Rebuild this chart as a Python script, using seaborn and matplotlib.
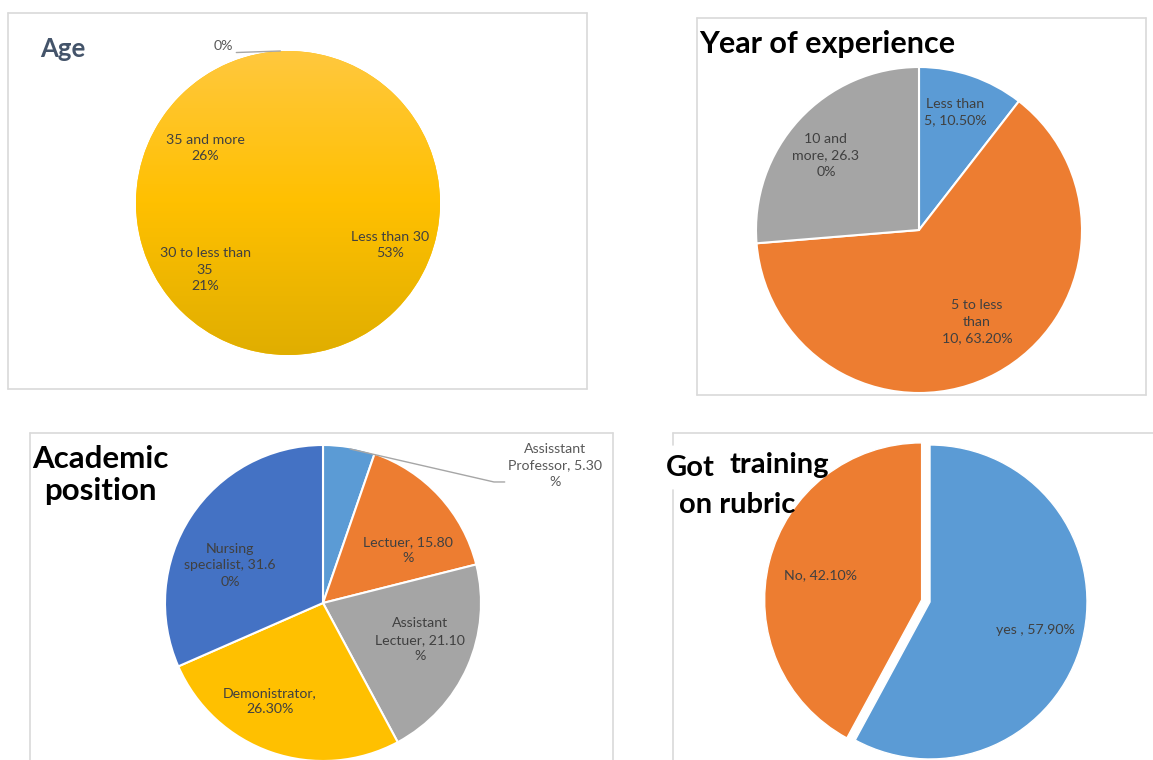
import numpy as np
import matplotlib
matplotlib.use("Agg")
import matplotlib.pyplot as plt
from matplotlib.colors import LinearSegmentedColormap
import seaborn as sns

# ---------------- data ----------------
age_labels = ["Less than 30\n53%", "30 to less than\n35\n21%", "35 and more\n26%", "0%"]
age_values = [53, 21, 26, 0.3]

exp_labels = ["Less than\n5, 10.50%", "5 to less\nthan\n10, 63.20%", "10 and\nmore, 26.3\n0%"]
exp_values = [10.5, 63.2, 26.3]

pos_labels = ["Assisstant\nProfessor, 5.30\n%", "Lectuer, 15.80\n%", "Assistant\nLectuer, 21.10\n%",
              "Demonistrator,\n26.30%", "Nursing\nspecialist, 31.6\n0%"]
pos_values = [5.3, 15.8, 21.1, 26.3, 31.6]

train_labels = ["yes , 57.90%", "No, 42.10%"]
train_values = [57.9, 42.1]

# ---------------- style ----------------
sns.set_theme(style="white")
plt.rcParams["font.family"] = ["Lato", "DejaVu Sans"]

BLUE = "#5B9BD5"
ORANGE = "#ED7D31"
GRAY = "#A5A5A5"
YELLOW = "#FFC000"
DBLUE = "#4472C4"
LBL = "#404040"
BORDER = "#D9D9D9"
FS = 10.2

W, H = 1153, 760
fig = plt.figure(figsize=(W / 100, H / 100), dpi=100)
fig.patch.set_facecolor("white")

# overlay axes in pixel coordinates for frames
ov = fig.add_axes([0, 0, 1, 1])
ov.set_xlim(0, W)
ov.set_ylim(H, 0)
ov.axis("off")


def frame(x0, y0, x1, y1, sides="tblr"):
    kw = dict(color=BORDER, lw=1.2, zorder=0)
    if "t" in sides:
        ov.plot([x0, x1], [y0, y0], **kw)
    if "b" in sides:
        ov.plot([x0, x1], [y1, y1], **kw)
    if "l" in sides:
        ov.plot([x0, x0], [y0, y1], **kw)
    if "r" in sides:
        ov.plot([x1, x1], [y0, y1], **kw)


frame(8, 13, 587, 389)
frame(697, 18, 1146, 395)
frame(30, 433, 613, 760, sides="tlr")
ov.plot([673, 1153], [433, 433], color=BORDER, lw=1.2, zorder=0)
ov.plot([673, 673], [433, 445], color=BORDER, lw=1.2, zorder=0)
ov.plot([673, 673], [490, 760], color=BORDER, lw=1.2, zorder=0)


def title(x, y, txt, **kw):
    fig.text(x / W, 1 - y / H, txt, zorder=10, fontweight="bold", **kw)


def pie_axes(cx, cy, r, s=1.2):
    ax = fig.add_axes([(cx - r * s) / W, 1 - (cy + r * s) / H, 2 * r * s / W, 2 * r * s / H])
    ax.axis("off")
    return ax, s


def fix_limits(ax, s):
    ax.set_xlim(-s, s)
    ax.set_ylim(-s, s)


# ---------------- Age ----------------
ax1, s1 = pie_axes(288, 203, 152)
wedges, _ = ax1.pie(age_values, colors=[YELLOW] * 4, startangle=90, counterclock=False,
                    wedgeprops=dict(linewidth=0))
cmap = LinearSegmentedColormap.from_list("yg", ["#E0AE00", "#FFC000", "#FFC83E"])
grad = np.linspace(0, 1, 256).reshape(-1, 1)
im = ax1.imshow(grad, cmap=cmap, extent=(-1, 1, -1, 1), origin="lower", aspect="auto", zorder=3)
circ = plt.Circle((0, 0), 1, transform=ax1.transData, fc="none", ec="none")
ax1.add_patch(circ)
im.set_clip_path(circ)
fix_limits(ax1, s1)
age_pos = [(0.671, -0.276), (-0.546, -0.44), (-0.546, 0.362)]
for (x, y), t in zip(age_pos, age_labels[:3]):
    ax1.text(x, y, t, ha="center", va="center", fontsize=FS, color=LBL, zorder=5, linespacing=1.45)
ax1.text(-0.36, 1.03, age_labels[3], ha="right", va="center", fontsize=FS, color="#595959", zorder=5)
ax1.plot([-0.34, -0.05], [0.99, 1.0], color="#A6A6A6", lw=1, zorder=5)
title(40, 49, "Age", fontsize=18.5, color="#44546A", ha="left", va="center")

# ---------------- Year of experience ----------------
ax2, s2 = pie_axes(919, 230, 163)
ax2.pie(exp_values, colors=[BLUE, ORANGE, GRAY], startangle=90, counterclock=False,
        wedgeprops=dict(edgecolor="white", linewidth=1.5))
fix_limits(ax2, s2)
exp_pos = [(0.221, 0.724), (0.356, -0.564), (-0.571, 0.46)]
for (x, y), t in zip(exp_pos, exp_labels):
    ax2.text(x, y, t, ha="center", va="center", fontsize=FS, color=LBL, linespacing=1.45)
title(699, 44, "Year of experience", fontsize=22, color="black", ha="left", va="center")

# ---------------- Academic position ----------------
ax3, s3 = pie_axes(323, 603, 158, s=1.6)
ax3.pie(pos_values, colors=[BLUE, ORANGE, GRAY, YELLOW, DBLUE], startangle=90, counterclock=False,
        wedgeprops=dict(edgecolor="white", linewidth=1.5))
fix_limits(ax3, s3)
pos_pos = [(1.468, 0.873), (0.538, 0.335), (0.614, -0.234), (-0.335, -0.62), (-0.589, 0.24)]
for i, ((x, y), t) in enumerate(zip(pos_pos, pos_labels)):
    ax3.text(x, y, t, ha="center", va="center", fontsize=FS,
             color="#595959" if i == 0 else LBL, linespacing=1.45)
ax3.plot([0.171, 1.082, 1.15], [0.975, 0.766, 0.766], color="#A6A6A6", lw=1)
title(100, 475, "Academic\nposition", fontsize=22.5, color="black",
      ha="center", va="center", linespacing=1.2)

# ---------------- Got training on rubric ----------------
ax4, s4 = pie_axes(930, 602, 157)
ax4.pie(train_values, colors=[BLUE, ORANGE], startangle=90, counterclock=False,
        explode=[0, 0.055], wedgeprops=dict(edgecolor="white", linewidth=1))
fix_limits(ax4, s4)
train_pos = [(0.669, -0.178), (-0.70, 0.172)]
for (x, y), t in zip(train_pos, train_labels):
    ax4.text(x, y, t, ha="center", va="center", fontsize=FS, color=LBL)
title(666, 468, "Got", fontsize=21, color="black", ha="left", va="center")
title(729, 465, "training", fontsize=21, color="black", ha="left", va="center")
title(679, 505, "on rubric", fontsize=21, color="black", ha="left", va="center")

fig.savefig("out.png", dpi=100, facecolor="white")
